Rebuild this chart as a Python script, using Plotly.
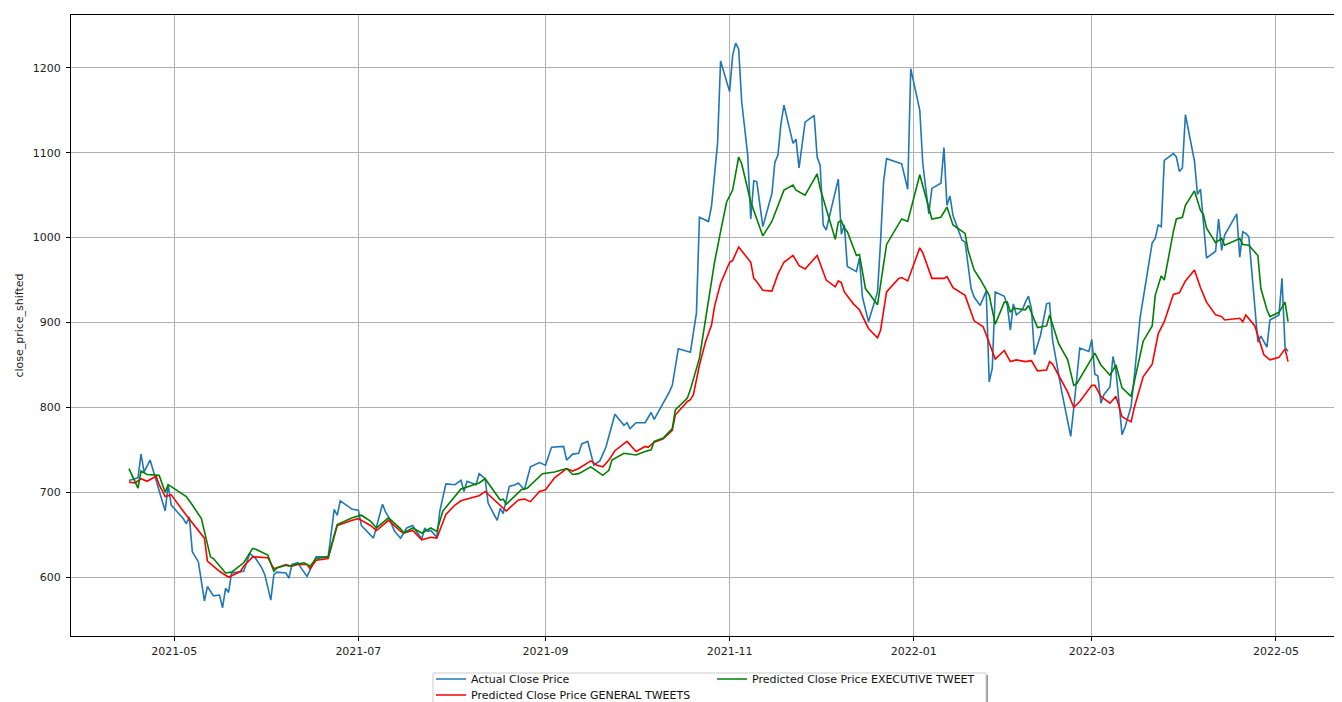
import pandas as pd
import plotly.graph_objects as go

# ---- data (day offsets from 2021-05-01) ----
base_date = "2021-05-01"

actual_days = [-15,-12,-11,-10,-8,-7,-5,-3,-2,-1,3,4,5,6,8,10,11,13,15,16,17,18,19,23,25,27,29,30,32,33,34,37,38,39,41,42,44,47,51,53,54,55,59,61,62,66,69,70,71,73,75,77,79,80,82,83,84,85,87,88,90,93,95,96,97,100,101,103,104,107,108,109,111,113,114,116,118,121,123,125,129,130,132,134,135,137,139,141,143,146,149,150,151,153,156,158,159,162,164,165,167,171,172,173,174,177,178,180,181,184,185,186,187,188,190,191,192,193,195,198,199,200,201,202,205,206,207,209,212,213,214,215,216,220,221,222,223,226,227,228,230,233,234,235,236,241,243,244,247,248,250,251,254,255,256,257,258,261,262,264,265,267,269,270,271,272,275,276,277,278,279,281,282,283,284,285,287,289,290,291,294,297,298,300,303,304,305,306,307,308,310,311,312,314,315,317,318,320,322,324,325,326,327,328,331,332,333,334,335,338,339,340,342,345,346,347,348,352,353,354,355,356,359,360,362,363,366,367,368,369]
actual_close = [714,717,745,724,738,726,701,678,709,685,669,663,671,630,618,572,589,578,579,564,587,582,605,607,628,622,611,603,573,603,606,605,599,615,617,611,601,624,624,680,673,690,680,679,661,646,686,677,671,654,646,658,661,655,645,658,654,655,647,678,710,709,714,701,713,709,722,716,687,667,681,675,707,709,711,703,730,735,732,753,754,738,745,746,757,760,732,737,753,792,779,782,775,782,782,794,786,805,818,826,869,865,889,911,1024,1019,1037,1111,1208,1172,1215,1229,1222,1160,1097,1022,1067,1066,1013,1052,1089,1097,1134,1156,1111,1116,1082,1136,1144,1095,1085,1015,1009,1069,1004,1015,966,960,976,930,901,936,995,1066,1093,1087,1057,1199,1150,1087,1028,1058,1064,1106,1038,1049,1026,997,995,940,930,920,937,830,846,936,931,920,891,922,909,915,924,931,916,862,885,922,923,879,819,766,799,870,866,880,839,837,805,815,824,860,843,768,777,801,834,906,950,994,999,1015,1013,1091,1099,1095,1078,1082,1145,1090,1051,1057,976,984,1022,985,1003,1028,977,1007,1005,1001,877,884,871,903,909,952,871,866]

general_days = [-15,-13,-11,-9,-6,-5,-3,-1,4,7,10,11,15,18,22,23,26,31,33,37,39,41,44,45,47,51,54,59,61,65,67,71,75,76,79,82,85,87,90,93,95,100,101,103,108,110,114,116,118,121,123,126,130,132,134,138,140,142,144,146,150,153,156,157,159,162,165,166,170,171,172,174,176,178,179,181,184,185,187,190,191,192,193,195,198,200,202,205,207,209,213,216,219,220,221,222,225,227,230,233,234,236,240,241,243,247,248,251,255,256,258,262,265,268,269,272,275,277,279,282,284,286,289,290,291,296,298,300,304,305,307,310,312,314,317,318,321,324,326,328,331,333,335,338,340,342,345,347,348,353,354,355,358,360,361,363,366,368,369]
general_pred = [712,711,716,713,719,709,695,697,673,660,646,619,607,600,607,613,624,623,610,615,613,615,615,610,620,622,661,667,669,661,655,667,654,652,655,644,647,646,674,685,690,695,696,701,684,678,691,692,689,701,703,717,728,725,728,737,732,730,738,749,760,748,754,753,759,763,773,791,807,809,815,850,877,897,919,946,971,973,989,976,971,952,948,938,937,957,971,979,967,963,979,950,942,949,947,936,922,915,893,882,891,936,952,953,949,988,982,952,952,954,941,932,902,895,885,857,867,854,856,854,855,843,844,854,851,818,800,807,826,826,813,805,813,789,783,799,836,851,887,901,933,935,949,962,941,924,909,907,903,905,901,909,896,873,862,856,859,869,854]

executive_days = [-15,-12,-11,-9,-5,-3,-2,4,6,9,12,13,17,19,23,26,27,31,33,34,37,38,40,43,45,47,51,54,59,62,65,67,71,75,76,79,82,85,87,89,95,101,103,108,109,110,115,117,122,126,130,132,134,138,140,142,144,145,149,153,156,158,159,162,165,166,170,171,174,177,179,181,183,185,187,188,191,195,198,202,205,206,209,213,214,217,219,220,221,222,223,226,227,229,233,236,241,243,247,251,254,256,258,262,263,265,267,270,272,275,276,277,278,282,283,286,289,290,293,296,298,299,305,307,310,312,314,317,321,324,325,327,328,331,332,334,335,338,340,341,342,345,347,348,353,354,356,359,360,362,363,366,368,369]
executive_pred = [728,705,725,721,720,700,709,695,685,669,624,622,605,606,617,634,633,626,607,611,614,613,615,617,613,622,624,662,670,673,666,658,670,657,652,658,652,658,654,678,704,711,716,691,692,686,703,705,722,724,728,721,722,730,725,720,726,738,746,744,748,750,760,764,775,797,811,821,858,928,971,1007,1042,1056,1095,1087,1042,1002,1019,1056,1062,1056,1050,1075,1058,1022,998,1018,1020,1011,1007,979,980,940,921,992,1022,1019,1074,1022,1024,1036,1015,1005,985,962,951,932,898,924,924,912,917,915,920,894,896,909,875,856,826,828,864,850,838,850,823,813,878,896,932,955,950,1007,1022,1024,1038,1055,1032,1027,1011,994,999,991,999,992,991,979,940,915,907,912,924,901]

series_names = ["Actual Close Price", "Predicted Close Price GENERAL TWEETS",
                "Predicted Close Price EXECUTIVE TWEET"]
series_colors = ["#1f77b4", "#ff0000", "#008000"]

x_tick_values = ["2021-05-01", "2021-07-01", "2021-09-01", "2021-11-01",
                 "2022-01-01", "2022-03-01", "2022-05-01"]
x_tick_labels = ["2021-05", "2021-07", "2021-09", "2021-11", "2022-01", "2022-03", "2022-05"]
y_tick_values = [600, 700, 800, 900, 1000, 1100, 1200]
y_title = "close_price_shifted"


def to_dates(days):
    return pd.Timestamp(base_date) + pd.to_timedelta(days, unit="D")


FONT = "DejaVu Sans"
W, H = 1342, 702
ML, MR, MT, MB = 63, 4, 7, 74
PW, PH = W - ML - MR, H - MT - MB


def px_x(px):
    return (px - ML) / PW


def px_y(py):
    return (H - MB - py) / PH


LINE_W = 1.6
fig = go.Figure()
fig.add_trace(go.Scatter(x=to_dates(actual_days), y=actual_close, mode="lines",
                         name=series_names[0], line=dict(color=series_colors[0], width=LINE_W),
                         legend="legend"))
fig.add_trace(go.Scatter(x=to_dates(general_days), y=general_pred, mode="lines",
                         name=series_names[1], line=dict(color=series_colors[1], width=LINE_W),
                         legend="legend3"))
fig.add_trace(go.Scatter(x=to_dates(executive_days), y=executive_pred, mode="lines",
                         name=series_names[2], line=dict(color=series_colors[2], width=LINE_W),
                         legend="legend2"))

# axis ranges with 5% margins like matplotlib
all_days = actual_days + general_days + executive_days
all_vals = actual_close + general_pred + executive_pred
dmin, dmax = min(all_days), max(all_days)
vmin, vmax = min(all_vals), max(all_vals)
dpad = (dmax - dmin) * 0.05
vpad = (vmax - vmin) * 0.05
x_range = [pd.Timestamp(base_date) + pd.Timedelta(days=dmin - dpad),
           pd.Timestamp(base_date) + pd.Timedelta(days=dmax + dpad)]

legend_font = dict(family=FONT, size=11, color="#111111")
common_legend = dict(xanchor="left", yanchor="top", orientation="v",
                     bgcolor="rgba(0,0,0,0)", borderwidth=0, font=legend_font,
                     maxheight=200)

fig.update_layout(
    width=W, height=H,
    margin=dict(l=ML, r=MR, t=MT, b=MB, autoexpand=False),
    paper_bgcolor="white", plot_bgcolor="white",
    font=dict(family=FONT, size=11, color="#222222"),
    showlegend=True,
    legend=dict(x=px_x(423), y=px_y(656.5), **common_legend),
    legend3=dict(x=px_x(423), y=px_y(672.5), **common_legend),
    legend2=dict(x=px_x(704), y=px_y(656.5), **common_legend),
    shapes=[
        dict(type="rect", xref="paper", yref="paper",
             x0=px_x(427), x1=px_x(980), y0=px_y(667), y1=px_y(720),
             fillcolor="#9a9a9a", line=dict(width=0), layer="above"),
        dict(type="rect", xref="paper", yref="paper",
             x0=px_x(425), x1=px_x(978), y0=px_y(665), y1=px_y(720),
             fillcolor="white", line=dict(color="#cccccc", width=1), layer="above"),
    ],
)

fig.update_xaxes(
    range=x_range, tickvals=x_tick_values, ticktext=x_tick_labels,
    showgrid=True, gridcolor="#b0b0b0", gridwidth=0.8,
    ticks="outside", ticklen=4, tickwidth=1, tickcolor="#000000",
    showline=True, mirror=True, linecolor="#000000", linewidth=1,
    zeroline=False, automargin=False, ticklabelstandoff=1,
    tickfont=dict(family=FONT, size=11, color="#222222"),
)
fig.update_yaxes(
    range=[vmin - vpad, vmax + vpad], tickvals=y_tick_values,
    showgrid=True, gridcolor="#b0b0b0", gridwidth=0.8,
    ticks="outside", ticklen=4, tickwidth=1, tickcolor="#000000",
    showline=True, mirror=True, linecolor="#000000", linewidth=1,
    zeroline=False, automargin=False, ticklabelstandoff=3,
    tickfont=dict(family=FONT, size=11, color="#222222"),
    title=dict(text=y_title, font=dict(family=FONT, size=11, color="#222222"), standoff=6),
)

fig.write_html("out.html")
